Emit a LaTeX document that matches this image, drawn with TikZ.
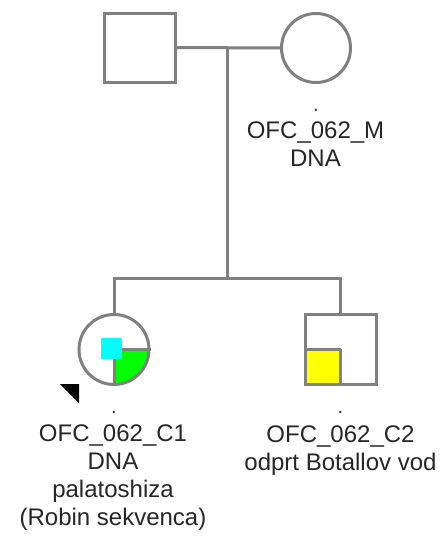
\documentclass[tikz,border=0pt]{standalone}
\usepackage{fontspec}
\setmainfont{Liberation Sans}
\usetikzlibrary{backgrounds}
\definecolor{pedgray}{RGB}{128,128,128}
\definecolor{pedgreen}{RGB}{0,255,0}
\definecolor{pedcyan}{RGB}{0,255,255}
\definecolor{pedyellow}{RGB}{255,255,0}
\begin{document}
\begin{tikzpicture}[x=1pt,y=-1pt,
  pline/.style={draw=pedgray,line width=3pt},
  male/.style={pline,rectangle,inner sep=0pt,minimum width=71pt,minimum height=69pt},
  female/.style={pline,circle,inner sep=0pt,minimum size=69pt},
  lbl/.style={align=center,inner sep=0pt,font=\fontsize{24}{28}\selectfont,text=black!85},
  dotlbl/.style={inner sep=0pt,font=\fontsize{20}{24}\selectfont,text=black!80,anchor=base}]
\useasboundingbox (0,0) rectangle (446,538);
% individuals
\node[male] (f) at (139.5,47.5) {};
\node[female] (m) at (316,48) {};
\node[female,minimum size=70pt] (c1) at (114,349.5) {};
\node[male,minimum height=70pt] (c2) at (340.5,349) {};
% connectors
\coordinate (mm) at (227,49);
\coordinate (sib) at (227,278);
\coordinate (s1) at (114,278);
\coordinate (s2) at (340.5,278);
\draw[pline] (f.east) -- (m.west);
\draw[pline] (mm) -- (sib);
\draw[pline] (c1.north) -- (s1) -- (s2) -- (c2.north);
% quadrant fills
\begin{scope}[on background layer]
  \begin{scope}
    \clip (c1.center) circle[radius=35pt];
    \fill[pedgreen] (c1.center) rectangle ([xshift=40pt,yshift=-40pt]c1.center);
  \end{scope}
  \fill[pedyellow] (c2.center) rectangle (c2.south west);
\end{scope}
\draw[pline] (c1.center) -- (c1.east);
\draw[pline] (c1.center) -- (c1.south);
\draw[pline] (c2.center) -- (c2.west);
\draw[pline] (c2.center) -- (c2.south);
\fill[pedcyan] (101,338) rectangle (122,359);
% proband arrow
\fill[black] (60,384) -- (79,384) -- (79,403) -- cycle;
% labels
\node[dotlbl] (md) at (316,111) {.};
\node[lbl,anchor=north] (ml) at (315.5,122) {OFC\_062\_M\\DNA};
\node[dotlbl] (c1d) at (114,413) {.};
\node[lbl,anchor=north] (c1l) at (113,425) {OFC\_062\_C1\\DNA\\palatoshiza\\(Robin sekvenca)};
\node[dotlbl] (c2d) at (340.5,413) {.};
\node[lbl,anchor=north] (c2l) at (340.5,426) {OFC\_062\_C2\\odprt Botallov vod};
\end{tikzpicture}
\end{document}
